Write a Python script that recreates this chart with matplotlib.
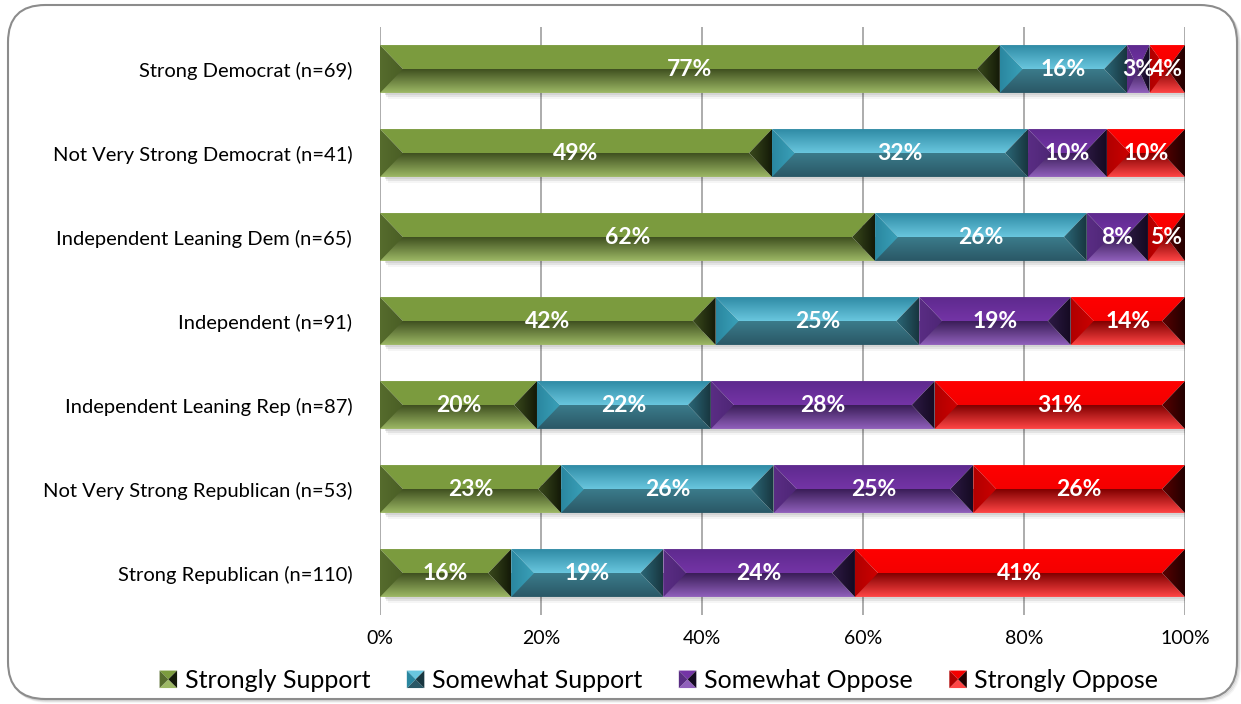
import numpy as np
import matplotlib
matplotlib.use("Agg")
import matplotlib.pyplot as plt
from matplotlib.patches import Polygon, FancyBboxPatch
from matplotlib.legend_handler import HandlerBase
from matplotlib.colors import to_rgb

plt.rcParams['font.family'] = ['Lato', 'DejaVu Sans']

categories = [
    "Strong Democrat (n=69)",
    "Not Very Strong Democrat (n=41)",
    "Independent Leaning Dem (n=65)",
    "Independent (n=91)",
    "Independent Leaning Rep (n=87)",
    "Not Very Strong Republican (n=53)",
    "Strong Republican (n=110)",
]
series_names = ["Strongly Support", "Somewhat Support", "Somewhat Oppose", "Strongly Oppose"]
strongly_support = [77.0, 48.7, 61.5, 41.7, 19.5, 22.5, 16.3]
somewhat_support = [15.8, 31.8, 26.3, 25.3, 21.6, 26.4, 18.9]
somewhat_oppose = [2.8, 9.8, 7.6, 18.8, 27.8, 24.8, 23.8]
strongly_oppose = [4.4, 9.7, 4.6, 14.2, 31.1, 26.3, 41.0]
labels = [
    ["77%", "49%", "62%", "42%", "20%", "23%", "16%"],
    ["16%", "32%", "26%", "25%", "22%", "26%", "19%"],
    ["3%", "10%", "8%", "19%", "28%", "25%", "24%"],
    ["4%", "10%", "5%", "14%", "31%", "26%", "41%"],
]
xticks = [0, 20, 40, 60, 80, 100]
xtick_labels = ["0%", "20%", "40%", "60%", "80%", "100%"]

# style: (top face top->mid), (bottom face mid->bottom), (left tri edge->apex), (right tri apex->edge)
styles = [
    dict(top=("#7b9b3f", "#7c9c3e"), bot=("#3f5020", "#9db865"), left=("#566c2d", "#4a5e25"), right=("#3a4a1c", "#141a08")),
    dict(top=("#2f8ba5", "#69c6de"), bot=("#3b7b8b", "#2a5866"), left=("#2a87a0", "#3aa0b8"), right=("#2b6878", "#18363f")),
    dict(top=("#5e2a8e", "#7434a6"), bot=("#3a1d58", "#9060bb"), left=("#5a2d84", "#4e2676"), right=("#2d1a45", "#150a22")),
    dict(top=("#ff0000", "#f40000"), bot=("#800000", "#ff4545"), left=("#b00000", "#cc0000"), right=("#5a0000", "#220000")),
]

BAR_H = 0.57
BEVEL = 2.85

fig = plt.figure(figsize=(12.41, 7.04), dpi=100)
ax = fig.add_axes([380 / 1241, 1 - 615 / 704, 805 / 1241, 588 / 704])

for k, a in enumerate([0.10, 0.07, 0.04]):
    sh = FancyBboxPatch(((8 + 1 + k) / 1241, (5 - 1 - k) / 704), 1229 / 1241, 694 / 704,
                        boxstyle="round,pad=0,rounding_size=0.03",
                        transform=fig.transFigure, facecolor="none",
                        edgecolor="black", alpha=a, linewidth=1.5, zorder=-11,
                        mutation_aspect=1241 / 704)
    fig.patches.append(sh)
border = FancyBboxPatch((8 / 1241, 5 / 704), 1229 / 1241, 694 / 704,
                        boxstyle="round,pad=0,rounding_size=0.03",
                        transform=fig.transFigure, facecolor="white",
                        edgecolor="#8c8c8c", linewidth=1.5, zorder=-10,
                        mutation_aspect=1241 / 704)
fig.patches.append(border)


def grad_poly(verts, c1, c2, direction, z=3):
    verts = np.asarray(verts)
    xmin, xmax = verts[:, 0].min(), verts[:, 0].max()
    ymin, ymax = verts[:, 1].min(), verts[:, 1].max()
    a, b = np.array(to_rgb(c1)), np.array(to_rgb(c2))
    t = np.linspace(0, 1, 64)
    cols = a[None, :] * (1 - t[:, None]) + b[None, :] * t[:, None]
    if direction == 'v':
        img = cols[:, None, :]
    else:
        img = cols[None, :, :]
    poly = Polygon(verts, closed=True, facecolor='none', edgecolor='none', transform=ax.transData)
    ax.add_patch(poly)
    im = ax.imshow(img, extent=(xmin, xmax, ymin, ymax), origin='upper', aspect='auto',
                   interpolation='bilinear', zorder=z)
    im.set_clip_path(poly)


n = len(categories)
ypos = np.arange(n)[::-1]
data = [strongly_support, somewhat_support, somewhat_oppose, strongly_oppose]

for i in range(n):
    yc = ypos[i]
    T, B, M = yc + BAR_H / 2, yc - BAR_H / 2, yc
    left = 0.0
    total = sum(d[i] for d in data)
    for k, a in enumerate([0.10, 0.07, 0.04]):
        ax.add_patch(plt.Rectangle((0.6 + 0.2 * k, B - 0.02 - 0.025 * k), total - 0.4 * k, 0.05,
                                   facecolor='black', alpha=a, edgecolor='none', zorder=2))
    for s, vals in enumerate(data):
        w = vals[i]
        x0, x1 = left, left + w
        d = min(BEVEL, w / 2)
        st = styles[s]
        grad_poly([(x0, T), (x1, T), (x1 - d, M), (x0 + d, M)], st['top'][0], st['top'][1], 'v')
        grad_poly([(x0, M), (x0 + d, M), (x1 - d, M), (x1, B), (x0, B)], st['bot'][0], st['bot'][1], 'v')
        grad_poly([(x0, T), (x0 + d, M), (x0, B)], st['left'][0], st['left'][1], 'h')
        grad_poly([(x1, T), (x1, B), (x1 - d, M)], st['right'][0], st['right'][1], 'h')
        ax.text((x0 + x1) / 2, yc, labels[s][i], ha='center', va='center', color='white',
                fontsize=16.5, fontweight='bold', zorder=6)
        left = x1

ax.set_xlim(0, 100)
ax.set_ylim(-0.5, n - 0.5)
ax.set_xticks(xticks)
ax.set_xticklabels(xtick_labels, fontsize=14)
ax.set_yticks(ypos)
ax.set_yticklabels(categories, fontsize=14.5)
ax.tick_params(axis='y', length=0, pad=20)
ax.tick_params(axis='x', length=0, pad=11)
ax.grid(axis='x', color='#a6a6a6', linewidth=1.3, zorder=0)
ax.set_axisbelow(True)
for sp in ax.spines.values():
    sp.set_visible(False)


class BevelHandler(HandlerBase):
    def __init__(self, st):
        super().__init__()
        self.st = st

    def create_artists(self, legend, orig_handle, xdescent, ydescent, width, height, fontsize, trans):
        s = height * 1.0
        x0 = -xdescent + width - s
        y0 = -ydescent + (height - s) / 2
        cx, cy = x0 + s / 2, y0 + s / 2
        st = self.st
        tris = [
            ([(x0, y0 + s), (x0 + s, y0 + s), (cx, cy)], st['top'][1]),
            ([(x0, y0), (x0 + s, y0), (cx, cy)], st['bot'][1]),
            ([(x0, y0), (x0, y0 + s), (cx, cy)], st['left'][0]),
            ([(x0 + s, y0), (x0 + s, y0 + s), (cx, cy)], st['right'][1]),
        ]
        arts = []
        for v, c in tris:
            p = Polygon(v, closed=True, facecolor=c, edgecolor='none', transform=trans)
            arts.append(p)
        return arts


handles = [plt.Rectangle((0, 0), 1, 1) for _ in series_names]
hmap = {h: BevelHandler(styles[k]) for k, h in enumerate(handles)}
fig.legend(handles, series_names, handler_map=hmap, loc='lower center', ncol=4,
           bbox_to_anchor=(0.532, -0.015), frameon=False, fontsize=18,
           handlelength=0.6, handletextpad=0.3, columnspacing=1.57)

fig.savefig("out.png", dpi=100)
